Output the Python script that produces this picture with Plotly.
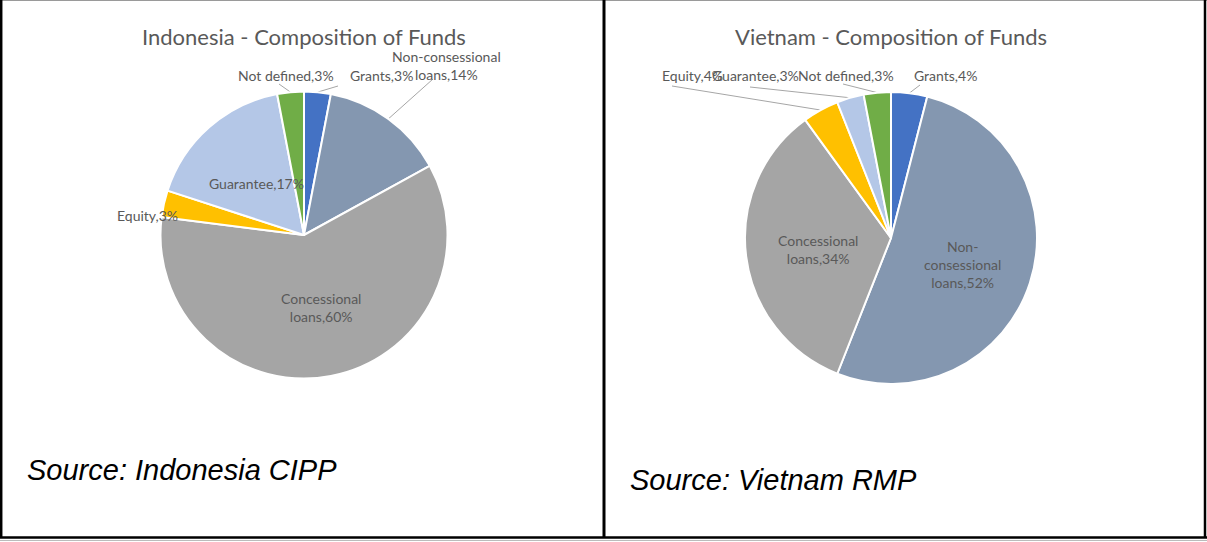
import math
import plotly.graph_objects as go

# ---- data -------------------------------------------------------------
idn_categories = ["Grants", "Non-consessional loans", "Concessional loans",
                  "Equity", "Guarantee", "Not defined"]
idn_shares = [3, 14, 60, 3, 17, 3]

vnm_categories = ["Grants", "Non-consessional loans", "Concessional loans",
                  "Equity", "Guarantee", "Not defined"]
vnm_shares = [4, 52, 34, 4, 3, 3]

idn_title = "Indonesia - Composition of Funds"
vnm_title = "Vietnam - Composition of Funds"
idn_source = "Source: Indonesia CIPP"
vnm_source = "Source: Vietnam RMP"

# ---- styling ------------------------------------------------------------
W, H = 1207, 542
COLORS = {
    "Grants": "#4472C4",
    "Non-consessional loans": "#8497B0",
    "Concessional loans": "#A5A5A5",
    "Equity": "#FFC000",
    "Guarantee": "#B4C7E7",
    "Not defined": "#70AD47",
}
LABEL_FONT = dict(family="Lato, Calibri, sans-serif", size=14, color="#595959")
TITLE_FONT = dict(family="Lato, Calibri, sans-serif", size=22, color="#595959")
SOURCE_FONT = dict(family="Liberation Sans, Arial, sans-serif", size=29, color="#000000")
LEADER = dict(color="#A6A6A6", width=1)

# pie geometry in pixels: centre x, centre y, radius
panels = [
    dict(cats=idn_categories, vals=idn_shares, title=idn_title, source=idn_source,
         cx=304, cy=235, r=143.5, title_xy=(304, 37), source_xy=(25, 470),
         # label placement: text position, optional leader start point
         labels={
             "Not defined": dict(xy=(286, 75), lead=(279, 84)),
             "Grants": dict(xy=(381, 75), lead=(338, 86)),
             "Non-consessional loans": dict(xy=(446, 65), lead=(433, 79),
                                            text="Non-consessional<br>loans"),
             "Equity": dict(xy=(147, 215)),
             "Guarantee": dict(xy=(256, 183)),
             "Concessional loans": dict(xy=(321, 307), text="Concessional<br>loans"),
         }),
    dict(cats=vnm_categories, vals=vnm_shares, title=vnm_title, source=vnm_source,
         cx=891, cy=238, r=146, title_xy=(891, 37), source_xy=(628, 480),
         labels={
             "Equity": dict(xy=(692, 75), lead=(672, 86)),
             "Guarantee": dict(xy=(755, 75), lead=(750, 87)),
             "Not defined": dict(xy=(846, 75), lead=(843, 84)),
             "Grants": dict(xy=(945, 75), lead=(920, 85)),
             "Non-consessional loans": dict(xy=(962, 264),
                                            text="Non-<br>consessional<br>loans"),
             "Concessional loans": dict(xy=(818, 249), text="Concessional<br>loans"),
         }),
]


def px(x):
    return x / W


def py(y):
    return 1 - y / H


fig = go.Figure()
annotations = []
shapes = []

for p in panels:
    cx, cy, r = p["cx"], p["cy"], p["r"]
    fig.add_trace(go.Pie(
        labels=p["cats"], values=p["vals"], sort=False, direction="clockwise",
        rotation=0, textinfo="none", hoverinfo="label+percent",
        marker=dict(colors=[COLORS[c] for c in p["cats"]],
                    line=dict(color="white", width=2)),
        domain=dict(x=[px(cx - r), px(cx + r)], y=[py(cy + r), py(cy - r)]),
        showlegend=False,
    ))

    total = sum(p["vals"])
    cum = 0
    for cat, val in zip(p["cats"], p["vals"]):
        mid = (cum + val / 2) / total * 2 * math.pi
        cum += val
        spec = p["labels"][cat]
        name = spec.get("text", cat)
        text = f"{name},{round(val / total * 100)}%"
        lx, ly = spec["xy"]
        annotations.append(dict(
            x=px(lx), y=py(ly), xref="paper", yref="paper", text=text,
            showarrow=False, font=LABEL_FONT, xanchor="center", yanchor="middle",
            align="center",
        ))
        if "lead" in spec:
            ex = cx + r * math.sin(mid)
            ey = cy - r * math.cos(mid)
            sx, sy = spec["lead"]
            shapes.append(dict(type="line", xref="paper", yref="paper",
                               x0=px(sx), y0=py(sy), x1=px(ex), y1=py(ey),
                               line=LEADER, layer="below"))

    tx, ty = p["title_xy"]
    annotations.append(dict(x=px(tx), y=py(ty), xref="paper", yref="paper",
                            text=p["title"], showarrow=False, font=TITLE_FONT,
                            xanchor="center", yanchor="middle"))
    sx, sy = p["source_xy"]
    annotations.append(dict(x=px(sx), y=py(sy), xref="paper", yref="paper",
                            text=f"<i>{p['source']}</i>", showarrow=False,
                            font=SOURCE_FONT, xanchor="left", yanchor="middle"))

# panel frames
frame = [
    (0, 0.5, W, 0.5, "#9A9A9A", 1),
    (1.2, 0, 1.2, 538, "#000000", 2.5),
    (1205, 0, 1205, 538, "#000000", 2.5),
    (0, 537.5, W, 537.5, "#000000", 2.5),
    (0, 540.5, W, 540.5, "#BBBBBB", 1),
    (604, 0, 604, 538, "#000000", 3),
]
for x0, y0, x1, y1, col, wd in frame:
    shapes.append(dict(type="line", xref="paper", yref="paper",
                       x0=px(x0), y0=py(y0), x1=px(x1), y1=py(y1),
                       line=dict(color=col, width=wd)))

fig.update_layout(
    width=W, height=H, margin=dict(l=0, r=0, t=0, b=0),
    paper_bgcolor="white", plot_bgcolor="white",
    annotations=annotations, shapes=shapes,
)

fig.write_html("out.html")
